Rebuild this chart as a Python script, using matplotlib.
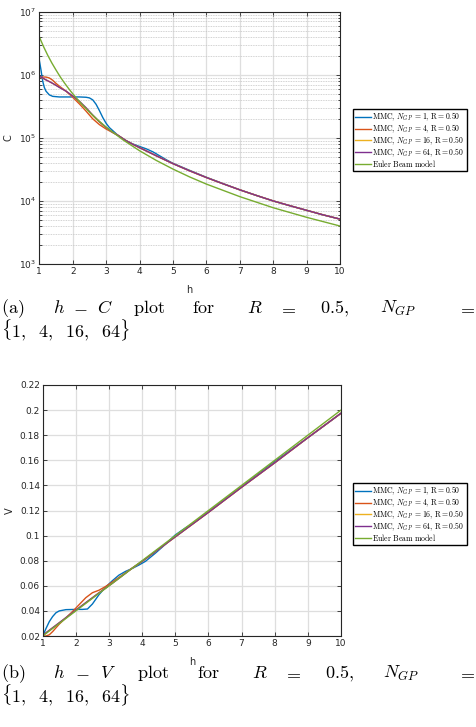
import matplotlib
matplotlib.use("Agg")
import matplotlib.pyplot as plt
from matplotlib.font_manager import FontProperties
from matplotlib.ticker import LogLocator, NullFormatter

# Kleurtjes zoals MATLAB ze standaard gebruikt
blue = '#0072BD'
orange = '#D95319'
yellow = '#EDB120'
purple = '#7E2F8E'
green = '#77AC30'

labels = [r'$\mathrm{MMC,}\,N_{GP}\ \mathrm{=1,\,R{=}0.50}$',
          r'$\mathrm{MMC,}\,N_{GP}\ \mathrm{=4,\,R{=}0.50}$',
          r'$\mathrm{MMC,}\,N_{GP}\ \mathrm{=16,\,R{=}0.50}$',
          r'$\mathrm{MMC,}\,N_{GP}\ \mathrm{=64,\,R{=}0.50}$',
          r'$\mathrm{Euler\ Beam\ model}$']

h_c1 = [1.0, 1.05, 1.1, 1.15, 1.2, 1.3, 1.4, 1.6, 1.8, 2.0, 2.2, 2.4, 2.5, 2.6, 2.7,
        2.8, 2.9, 3.0, 3.1, 3.2, 3.35, 3.6, 3.8, 4.0, 4.2, 4.4, 4.6, 4.8, 5.0, 5.5,
        6.0, 6.5, 7.0, 7.5, 8.0, 8.5, 9.0, 9.5, 10.0]
c_1 = [1.7e6, 1.2e6, 8.0e5, 6.3e5, 5.5e5, 4.8e5, 4.55e5, 4.45e5, 4.45e5, 4.45e5,
       4.45e5, 4.4e5, 4.3e5, 4.0e5, 3.4e5, 2.7e5, 2.1e5, 1.7e5, 1.45e5, 1.3e5,
       1.1e5, 9.0e4, 8.0e4, 7.3e4, 6.7e4, 6.0e4, 5.2e4, 4.5e4, 3.95e4, 3.05e4,
       2.37e4, 1.88e4, 1.5e4, 1.22e4, 1.0e4, 8.4e3, 7.1e3, 6.0e3, 5.15e3]

h_c = [1.0, 1.1, 1.2, 1.3, 1.4, 1.5, 1.6, 1.8, 2.0, 2.2, 2.4, 2.6, 2.8, 3.0, 3.2,
       3.35, 3.6, 3.8, 4.0, 4.5, 5.0, 5.5, 6.0, 6.5, 7.0, 7.5, 8.0, 8.5, 9.0, 9.5, 10.0]
c_4 = [9.0e5, 9.2e5, 9.2e5, 8.9e5, 8.2e5, 7.3e5, 6.6e5, 5.5e5, 4.4e5, 3.45e5, 2.65e5,
       2.0e5, 1.62e5, 1.38e5, 1.21e5, 1.1e5, 9.0e4, 7.9e4, 7.0e4, 5.2e4, 3.9e4, 3.0e4,
       2.35e4, 1.87e4, 1.5e4, 1.22e4, 1.0e4, 8.4e3, 7.1e3, 6.0e3, 5.15e3]
c_16 = [9.4e5, 8.8e5, 8.3e5, 7.8e5, 7.3e5, 6.8e5, 6.35e5, 5.5e5, 4.55e5, 3.75e5, 2.95e5,
        2.25e5, 1.78e5, 1.45e5, 1.22e5, 1.1e5, 9.0e4, 7.9e4, 7.0e4, 5.2e4, 3.9e4, 3.0e4,
        2.35e4, 1.87e4, 1.5e4, 1.22e4, 1.0e4, 8.4e3, 7.1e3, 6.0e3, 5.15e3]
c_64 = [9.5e5, 8.9e5, 8.3e5, 7.8e5, 7.3e5, 6.8e5, 6.3e5, 5.5e5, 4.6e5, 3.8e5, 3.0e5,
        2.3e5, 1.8e5, 1.46e5, 1.22e5, 1.1e5, 9.0e4, 7.9e4, 7.0e4, 5.2e4, 3.9e4, 3.0e4,
        2.35e4, 1.87e4, 1.5e4, 1.22e4, 1.0e4, 8.4e3, 7.1e3, 6.0e3, 5.15e3]

h_e = [1.0, 1.125, 1.25, 1.375, 1.5, 1.625, 1.75, 1.875, 2.0, 2.25, 2.5, 2.75, 3.0,
       3.5, 4.0, 4.5, 5.0, 5.5, 6.0, 7.0, 8.0, 9.0, 10.0]
c_e = [4.0e6, 2.81e6, 2.05e6, 1.54e6, 1.19e6, 9.3e5, 7.46e5, 6.07e5, 5.0e5, 3.51e5,
       2.56e5, 1.92e5, 1.48e5, 9.33e4, 6.25e4, 4.39e4, 3.2e4, 2.4e4, 1.85e4, 1.17e4,
       7.8e3, 5.5e3, 4.0e3]

h_v1 = [1.0, 1.1, 1.2, 1.3, 1.4, 1.5, 1.7, 2.0, 2.2, 2.35, 2.5, 2.7, 2.9, 3.1, 3.3,
        3.5, 3.7, 3.9, 4.1, 4.4, 4.7, 5.0, 5.3, 5.6, 6.0, 7.0, 8.0, 9.0, 10.0]
v_1 = [0.02, 0.026, 0.0315, 0.0355, 0.0385, 0.040, 0.041, 0.0412, 0.0412, 0.0415,
       0.0455, 0.053, 0.059, 0.064, 0.0685, 0.0715, 0.0738, 0.0765, 0.0795, 0.086,
       0.093, 0.1005, 0.106, 0.111, 0.119, 0.139, 0.159, 0.178, 0.1975]

h_v = [1.0, 1.1, 1.2, 1.3, 1.4, 1.5, 1.7, 1.9, 2.1, 2.3, 2.5, 2.7, 2.9, 3.1, 3.4,
       3.7, 4.0, 5.0, 6.0, 7.0, 8.0, 9.0, 10.0]
v_4 = [0.02, 0.020, 0.021, 0.0235, 0.0265, 0.0295, 0.0345, 0.0395, 0.045, 0.0505,
       0.0545, 0.0565, 0.0595, 0.063, 0.0685, 0.074, 0.0795, 0.099, 0.1185, 0.1385,
       0.158, 0.178, 0.1975]
v_16 = [0.0205, 0.0225, 0.0245, 0.0265, 0.0285, 0.0305, 0.0345, 0.0385, 0.0425,
        0.0465, 0.0505, 0.0545, 0.0582, 0.062, 0.068, 0.0741, 0.0795, 0.099, 0.1185,
        0.1385, 0.158, 0.178, 0.1975]
v_64 = [0.0205, 0.0226, 0.0246, 0.0266, 0.0286, 0.0306, 0.0346, 0.0386, 0.0426,
        0.0466, 0.0505, 0.0544, 0.0582, 0.062, 0.068, 0.0741, 0.0795, 0.099, 0.1185,
        0.1385, 0.158, 0.178, 0.1975]

h_ve = [1.0, 2.0, 3.0, 4.0, 5.0, 6.0, 7.0, 8.0, 9.0, 10.0]
v_e = [0.02, 0.04, 0.06, 0.08, 0.1, 0.12, 0.14, 0.16, 0.18, 0.2]

W, H = 477, 727
fig = plt.figure(figsize=(W / 100, H / 100), dpi=100)

legprop = FontProperties(size=5.6, math_fontfamily='cm')
axcol = '#262626'


def style_axes(ax):
    ax.set_xlim(1, 10)
    ax.set_xticks(range(1, 11))
    ax.tick_params(which='both', direction='in', top=True, right=True,
                   labelsize=6.5, colors=axcol, length=3, width=0.6, pad=2)
    ax.tick_params(which='minor', length=1.8)
    for s in ax.spines.values():
        s.set_color(axcol)
        s.set_linewidth(0.8)
    ax.set_axisbelow(True)


def add_legend(ax, top_px):
    leg = ax.legend(loc='upper left', bbox_to_anchor=(353 / W, 1 - top_px / H),
                    bbox_transform=fig.transFigure, prop=legprop, frameon=True,
                    fancybox=False, edgecolor='black', framealpha=1,
                    handlelength=2.1, handletextpad=0.15, labelspacing=-0.1,
                    borderpad=0.25, borderaxespad=0)
    leg.get_frame().set_linewidth(1.0)
    return leg


# ---- bovenste plot ----
ax1 = fig.add_axes([39.3 / W, 1 - 264 / H, (340 - 39.3) / W, (264 - 11.7) / H])
ax1.set_yscale('log')
ax1.plot(h_c1, c_1, color=blue, lw=1.0, label=labels[0])
ax1.plot(h_c, c_4, color=orange, lw=1.0, label=labels[1])
ax1.plot(h_c, c_16, color=yellow, lw=1.0, label=labels[2])
ax1.plot(h_c, c_64, color=purple, lw=1.0, label=labels[3])
ax1.plot(h_e, c_e, color=green, lw=1.0, label=labels[4])
ax1.set_ylim(1e3, 1e7)
style_axes(ax1)
ax1.yaxis.set_minor_locator(LogLocator(base=10, subs=range(2, 10)))
ax1.yaxis.set_minor_formatter(NullFormatter())
ax1.grid(True, which='major', color='#dedede', lw=0.9)
ax1.grid(True, which='minor', axis='y', color='#c4c4c4', lw=0.6, ls=(0, (1, 1)))
ax1.set_xlabel('h', fontsize=7, color=axcol)
ax1.set_ylabel('C', fontsize=7, color=axcol)
ax1.xaxis.set_label_coords(0.5, -0.083)
ax1.yaxis.set_label_coords(-0.085, 0.5)
add_legend(ax1, 109)

# ---- onderste plot ----
ax2 = fig.add_axes([42.7 / W, 1 - 636 / H, (341 - 42.7) / W, (636 - 385) / H])
ax2.plot(h_v1, v_1, color=blue, lw=1.0, label=labels[0])
ax2.plot(h_v, v_4, color=orange, lw=1.0, label=labels[1])
ax2.plot(h_v, v_16, color=yellow, lw=1.0, label=labels[2])
ax2.plot(h_v, v_64, color=purple, lw=1.0, label=labels[3])
ax2.plot(h_ve, v_e, color=green, lw=1.0, label=labels[4])
ax2.set_ylim(0.02, 0.22)
ax2.set_yticks([0.02, 0.04, 0.06, 0.08, 0.1, 0.12, 0.14, 0.16, 0.18, 0.2, 0.22])
ax2.set_yticklabels(['0.02', '0.04', '0.06', '0.08', '0.1', '0.12', '0.14', '0.16',
                     '0.18', '0.2', '0.22'])
style_axes(ax2)
ax2.grid(True, which='major', color='#dedede', lw=0.9)
ax2.set_xlabel('h', fontsize=7, color=axcol)
ax2.set_ylabel('V', fontsize=7, color=axcol)
ax2.xaxis.set_label_coords(0.5, -0.084)
ax2.yaxis.set_label_coords(-0.092, 0.5)
add_legend(ax2, 483)

# ---- onderschriften (uitgevuld, woord voor woord) ----
cap_a = [(r'$\mathrm{(a)}$', 1), (r'$h$', 53), (r'$-$', 73), (r'$C$', 97),
         (r'$\mathrm{plot}$', 133), (r'$\mathrm{for}$', 192), (r'$R$', 247),
         (r'$=$', 278), (r'$0.5,$', 320), (r'$N_{GP}$', 380)]
cap_b = [(r'$\mathrm{(b)}$', 1), (r'$h$', 53), (r'$-$', 75), (r'$V$', 100),
         (r'$\mathrm{plot}$', 137), (r'$\mathrm{for}$', 197), (r'$R$', 252),
         (r'$=$', 283), (r'$0.5,$', 325), (r'$N_{GP}$', 383)]
set_b = r'$\{1,\ \;4,\ \;16,\ \;64\}$'
fs = 13


def caption(tokens, y1, y2):
    for txt, x in tokens:
        fig.text(x / W, 1 - y1 / H, txt, fontsize=fs, math_fontfamily='cm',
                 ha='left', va='baseline')
    fig.text(475 / W, 1 - y1 / H, r'$=$', fontsize=fs, math_fontfamily='cm',
             ha='right', va='baseline')
    fig.text(1 / W, 1 - y2 / H, set_b, fontsize=fs, math_fontfamily='cm',
             ha='left', va='baseline')


caption(cap_a, 313, 337)
caption(cap_b, 678, 702)

fig.savefig('out.png', dpi=100)
